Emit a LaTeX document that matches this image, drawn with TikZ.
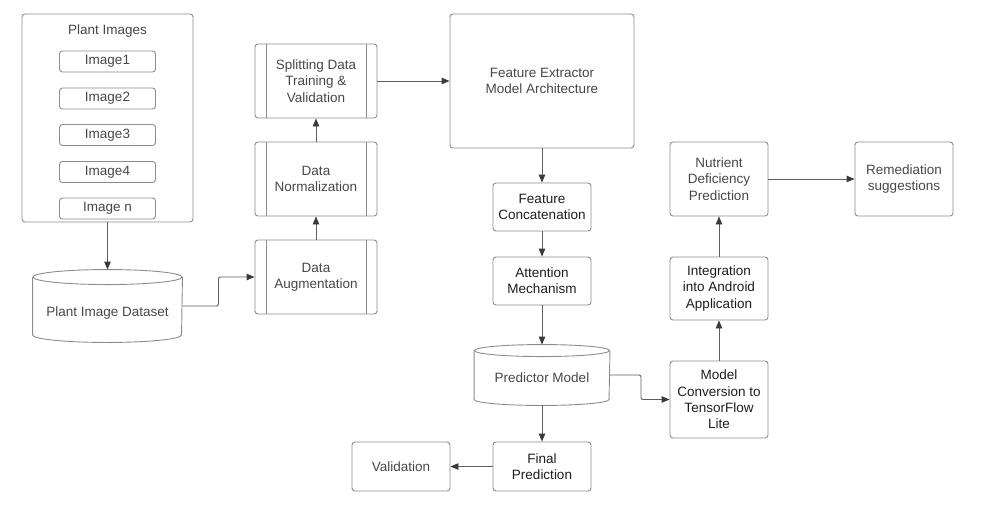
\documentclass[tikz,border=0pt]{standalone}
\usepackage{fontspec}
\setmainfont{Liberation Sans}
\usetikzlibrary{arrows.meta,calc}

\definecolor{edgegray}{HTML}{8C8C8C}
\definecolor{linegray}{HTML}{5E5E5E}
\definecolor{tipgray}{HTML}{3A3A3A}
\definecolor{txtdark}{HTML}{1E1E1E}
\definecolor{txtgray}{HTML}{474747}

\begin{document}
\begin{tikzpicture}[x=1pt, y=-1pt,
  font=\fontsize{13.5}{16.3}\selectfont,
  box/.style={draw=edgegray, line width=0.9pt, rounded corners=3pt, align=center, text=txtgray, inner sep=2pt},
  darkbox/.style={box, text=txtdark},
  db/.style={box, draw=none},
  rim/.style={draw=edgegray, line width=0.9pt},
  flow/.style={draw=linegray, line width=0.9pt, rounded corners=2pt, -{Triangle[length=8pt,width=6.5pt,color=tipgray]}}
]
\useasboundingbox (0,0) rectangle (1002,523);

% Plant images group
\node[box, minimum width=171pt, minimum height=208pt] (imgs) at (107.5,118) {};
\node[text=txtgray] (imgstitle) at (107.5,31) {Plant Images};
\foreach \i/\y/\t in {1/61.5/Image1, 2/98.5/Image2, 3/135/Image3, 4/172/Image4, 5/208.5/Image n}
  \node[box, minimum width=96pt, minimum height=21pt] (img\i) at (107.5,\y) {\t};

% Dataset (cylinder)
\node[db, minimum width=149pt, minimum height=72pt, text height=24pt, text depth=3pt] (ds) at (107.5,306) {Plant Image Dataset};

% Preprocessing steps
\node[box, minimum width=122pt, minimum height=74pt] (aug) at (316,277) {Data\\Augmentation};
\node[box, minimum width=122pt, minimum height=74pt] (norm) at (316,179) {Data\\Normalization};
\node[box, minimum width=122pt, minimum height=74pt] (split) at (316,81) {Splitting Data\\Training \&\\Validation};

% Model
\node[box, minimum width=184pt, minimum height=134pt] (fe) at (542,81) {Feature Extractor\\Model Architecture};
\node[darkbox, minimum width=98pt, minimum height=48pt] (concat) at (542,207) {Feature\\Concatenation};
\node[darkbox, minimum width=98pt, minimum height=48pt] (attn) at (542,281) {Attention\\Mechanism};
\node[db, minimum width=135pt, minimum height=60pt, text height=18pt, text depth=3pt] (pred) at (542,375) {Predictor Model};
\node[darkbox, minimum width=98pt, minimum height=49pt] (final) at (542,466.5) {Final\\Prediction};
\node[box, minimum width=98pt, minimum height=49pt] (valid) at (401,466.5) {Validation};

% Deployment
\node[darkbox, minimum width=98pt, minimum height=77pt] (conv) at (719,399.5) {Model\\Conversion to\\TensorFlow\\Lite};
\node[darkbox, minimum width=98pt, minimum height=63pt] (integ) at (719,288.5) {Integration\\into Android\\Application};
\node[box, minimum width=98pt, minimum height=74pt] (nutr) at (719,179) {Nutrient\\Deficiency\\Prediction};
\node[box, minimum width=98pt, minimum height=74pt] (remed) at (904,179) {Remediation\\suggestions};

% Side bars of the process boxes
\foreach \n in {aug,norm,split} {
  \draw[rim] ($(\n.north west)+(12,0)$) -- ($(\n.south west)+(12,0)$);
  \draw[rim] ($(\n.north east)+(-11,0)$) -- ($(\n.south east)+(-11,0)$);
}

% Cylinder outlines
\foreach \n/\rx/\ry in {ds/74.5/7.5, pred/67.5/6} {
  \draw[rim] ($(\n.north)+(0,\ry)$) ellipse[x radius=\rx pt, y radius=\ry pt];
  \draw[rim] ($(\n.north west)+(0,\ry)$) -- ($(\n.south west)+(0,-\ry)$)
    arc[start angle=180, end angle=360, x radius=\rx pt, y radius=\ry pt]
    -- ($(\n.north east)+(0,\ry)$);
}

% Connectors
\draw[flow] (imgs.south) -- (ds.north);
\draw[flow] (ds.east) -- ++(36,0) |- (aug.west);
\draw[flow] (aug.north) -- (norm.south);
\draw[flow] (norm.north) -- (split.south);
\draw[flow] (split.east) -- (fe.west);
\draw[flow] (fe.south) -- (concat.north);
\draw[flow] (concat.south) -- (attn.north);
\draw[flow] (attn.south) -- (pred.north);
\draw[flow] (pred.south) -- (final.north);
\draw[flow] (final.west) -- (valid.east);
\draw[flow] (pred.east) -- ++(31,0) |- (conv.west);
\draw[flow] (conv.north) -- (integ.south);
\draw[flow] (integ.north) -- (nutr.south);
\draw[flow] (nutr.east) -- (remed.west);

\end{tikzpicture}
\end{document}
